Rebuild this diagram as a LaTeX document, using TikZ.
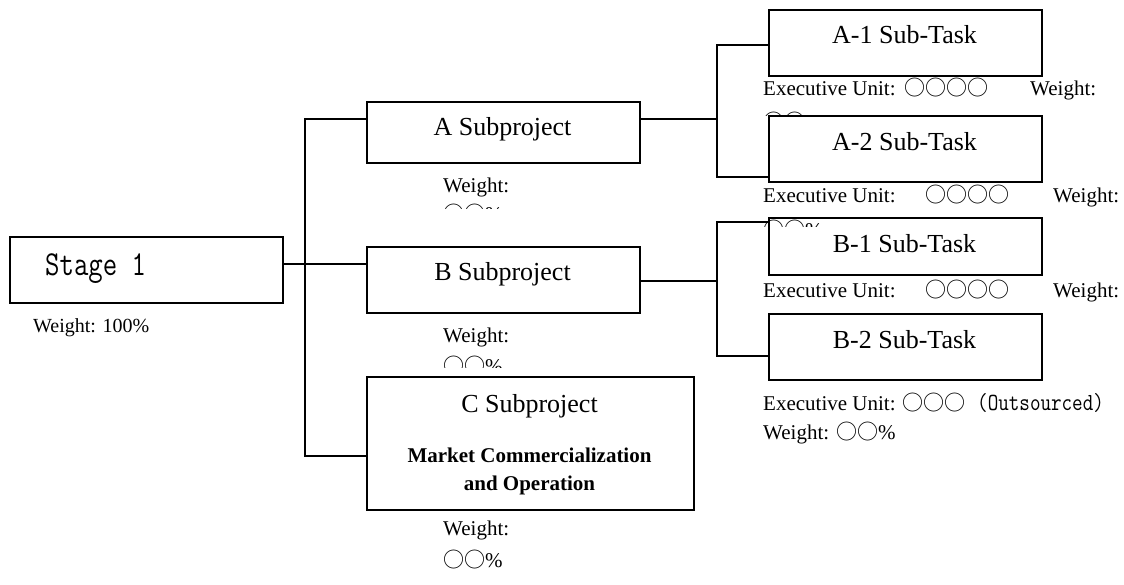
\documentclass[tikz,border=0pt]{standalone}
\usepackage{fontspec}
\setmainfont{Liberation Serif}
\newfontfamily\cjk{Noto Sans CJK SC}
\newcommand\wcirc{{\cjk ○}}
\begin{document}
\begin{tikzpicture}[x=1pt,y=-1pt,
  box/.style={draw, line width=1.9pt, fill=white, inner sep=0, anchor=north west},
  conn/.style={line width=1.5pt},
  title/.style={anchor=base, inner sep=0, font=\fontsize{26}{30}\selectfont},
  small/.style={anchor=base west, inner sep=0, font=\fontsize{21}{24}\selectfont},
  boldtxt/.style={anchor=base, inner sep=0, font=\fontsize{21}{24}\selectfont\bfseries}
]
\useasboundingbox (0,0) rectangle (1124,584);

% ---- left part
\node[box, minimum width=273pt, minimum height=66pt] (S) at (9,236) {};
\node[anchor=base west, inner sep=0] (tS) at (45,275)
  {\scalebox{1}[1.25]{\ttfamily\fontsize{28}{30}\selectfont Stage 1}};
\node[small, font=\fontsize{20}{24}\selectfont] (wS) at (33,332) {Weight: 100\%};

\node[box, minimum width=273pt, minimum height=61pt] (A) at (366,101) {};
\node[title] (tA) at (502.5,135) {A Subproject};
\node[small] (wA) at (443,192) {Weight:};
\begin{scope}
  \clip (430,200) rectangle (520,208);
  \node[small] (wA2) at (443,221) {\wcirc\wcirc\%};
\end{scope}

\node[box, minimum width=273pt, minimum height=66pt] (B) at (366,246) {};
\node[title] (tB) at (502.5,280) {B Subproject};
\node[small] (wB) at (443,342) {Weight:};
\begin{scope}
  \clip (430,350) rectangle (520,367);
  \node[small] (wB2) at (443,373.5) {\wcirc\wcirc\%};
\end{scope}

\node[box, minimum width=327pt, minimum height=133pt] (C) at (366,376) {};
\node[title] (tC) at (529.5,412) {C Subproject};
\node[boldtxt] (mC1) at (529.5,462) {Market Commercialization};
\node[boldtxt] (mC2) at (529.5,490) {and Operation};
\node[small] (wC) at (443,535) {Weight:};
\node[small] (wC2) at (443,567) {\wcirc\wcirc\%};

% ---- connectors, left bracket
\coordinate (ja) at (305,119);
\coordinate (jb) at (305,264);
\coordinate (jc) at (305,456);
\draw[conn] (S.east |- jb) -- (B.west |- jb);
\draw[conn] (A.west |- ja) -- (ja) -- (jc) -- (C.west |- jc);

% ---- right part: A
\node[box, minimum width=273pt, minimum height=66pt] (A1) at (768,9) {};
\node[title] (tA1) at (904.5,43) {A-1 Sub-Task};
\node[small] (eA1) at (763,95) {Executive Unit:};
\node[small] (cA1) at (904,95) {\wcirc\wcirc\wcirc\wcirc};
\node[small] (gA1) at (1030,95) {Weight:};
\begin{scope}
  \clip (750,104) rectangle (900,115);
  \node[small] (pA1) at (763,129.5) {\wcirc\wcirc\%};
\end{scope}

\node[box, minimum width=273pt, minimum height=66pt] (A2) at (768,115) {};
\node[title] (tA2) at (904.5,150) {A-2 Sub-Task};

% ---- right part: B
\node[box, minimum width=273pt, minimum height=57pt] (B1) at (768,217) {};
\node[title] (tB1) at (904.5,252) {B-1 Sub-Task};

\node[small] (eA2) at (763,202) {Executive Unit:};
\node[small] (cA2) at (925,202) {\wcirc\wcirc\wcirc\wcirc};
\node[small] (gA2) at (1053,202) {Weight:};
\begin{scope}
  \clip (750,210) rectangle (900,226);
  \node[small] (pA2) at (763,237.5) {\wcirc\wcirc\%};
\end{scope}

\node[small] (eB1) at (763,297) {Executive Unit:};
\node[small] (cB1) at (925,297) {\wcirc\wcirc\wcirc\wcirc};
\node[small] (gB1) at (1053,297) {Weight:};

\node[box, minimum width=273pt, minimum height=66pt] (B2) at (768,313) {};
\node[title] (tB2) at (904.5,348) {B-2 Sub-Task};
\node[small] (eB2) at (763,410) {Executive Unit: \wcirc\wcirc\wcirc};
\node[anchor=base west, inner sep=0] (oB2) at (977,410)
  {\scalebox{1}[1.2]{\ttfamily\fontsize{20.5}{24}\selectfont (Outsourced)}};
\node[small] (gB2) at (763,439) {Weight: \wcirc\wcirc\%};

% ---- right brackets
\coordinate (ka) at (717,119);
\coordinate (ka1) at (717,45);
\coordinate (ka2) at (717,177);
\draw[conn] (A.east |- ka) -- (ka);
\draw[conn] (A1.west |- ka1) -- (ka1) -- (ka2) -- (A2.west |- ka2);

\coordinate (kb) at (717,281);
\coordinate (kb1) at (717,222);
\coordinate (kb2) at (717,356);
\draw[conn] (B.east |- kb) -- (kb);
\draw[conn] (B1.west |- kb1) -- (kb1) -- (kb2) -- (B2.west |- kb2);
\end{tikzpicture}
\end{document}
